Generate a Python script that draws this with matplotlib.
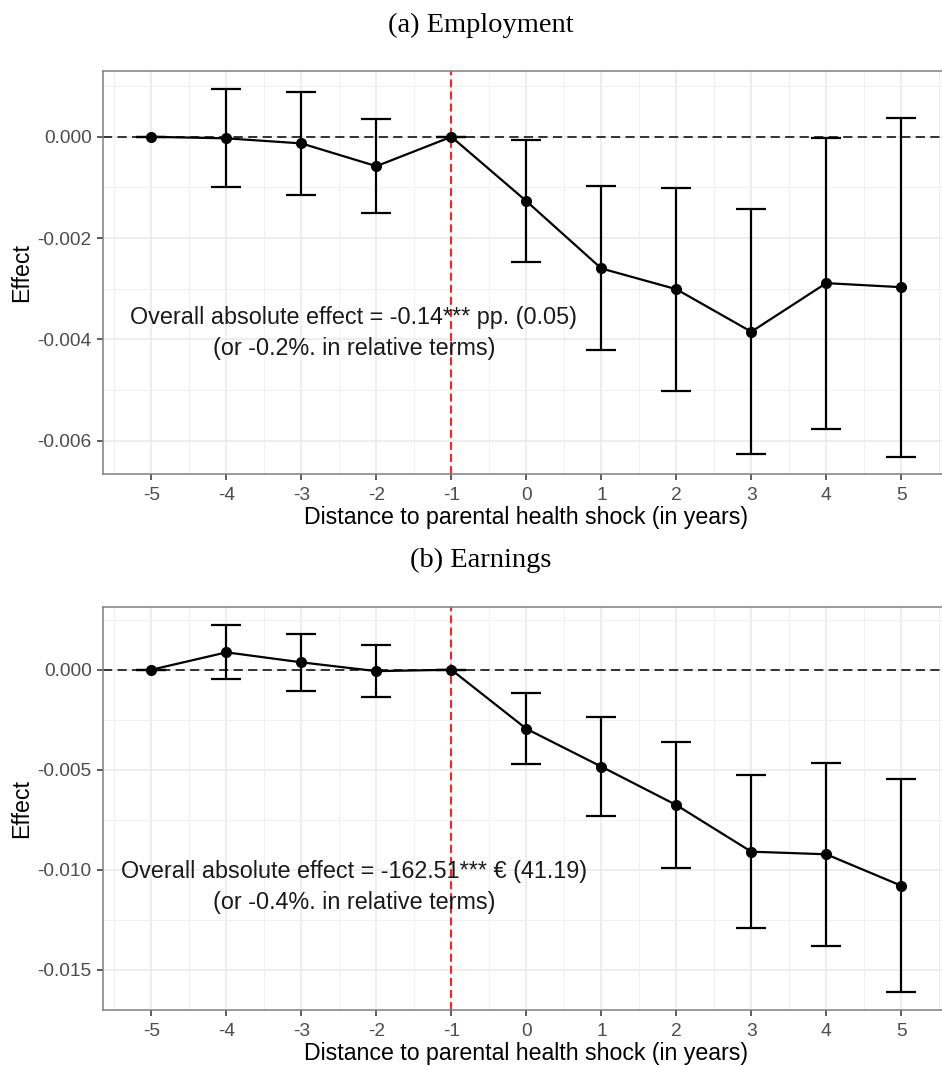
import matplotlib
matplotlib.use("Agg")
import matplotlib.pyplot as plt
from matplotlib.ticker import MultipleLocator
import numpy as np

# ---- data ----
years = [-5, -4, -3, -2, -1, 0, 1, 2, 3, 4, 5]

emp_est = [0.0, -0.00003, -0.00013, -0.00058, 0.0, -0.00127, -0.0026, -0.00301, -0.00385, -0.00289, -0.00297]
emp_lo = [0.0, -0.00099, -0.00115, -0.00151, 0.0, -0.00248, -0.00422, -0.00502, -0.00627, -0.00577, -0.00632]
emp_hi = [0.0, 0.00094, 0.00088, 0.00036, 0.0, -0.000065, -0.00097, -0.00101, -0.00142, -0.00002, 0.000375]

earn_est = [0.0, 0.00087, 0.00037, -0.00007, 0.0, -0.00295, -0.00484, -0.00676, -0.00909, -0.00922, -0.01079]
earn_lo = [0.0, -0.00048, -0.00106, -0.00138, 0.0, -0.00473, -0.00731, -0.00989, -0.01289, -0.01379, -0.01611]
earn_hi = [0.0, 0.00223, 0.00177, 0.00123, 0.0, -0.00118, -0.00238, -0.00363, -0.00526, -0.00468, -0.00544]

emp_yticks = [0.0, -0.002, -0.004, -0.006]
emp_yticklabels = ["0.000", "-0.002", "-0.004", "-0.006"]
earn_yticks = [0.0, -0.005, -0.010, -0.015]
earn_yticklabels = ["0.000", "-0.005", "-0.010", "-0.015"]

titles = ["(a) Employment", "(b) Earnings"]
notes = [
    "Overall absolute effect = -0.14*** pp. (0.05)\n(or -0.2%. in relative terms)",
    "Overall absolute effect = -162.51*** \u20ac (41.19)\n(or -0.4%. in relative terms)",
]
xlabel = "Distance to parental health shock (in years)"
ylabel = "Effect"

plt.rcParams['font.family'] = ['Liberation Sans', 'DejaVu Sans']

fig = plt.figure(figsize=(9.42, 10.66), dpi=100)
W, H = 942.0, 1066.0

panels = [
    dict(est=emp_est, lo=emp_lo, hi=emp_hi, yt=emp_yticks, ytl=emp_yticklabels,
         ylim=(-0.00666, 0.0013), minor=0.001, box=(102.7, 71, 950, 474),
         note_xy=(-2.3, -0.00388), title_y=25),
    dict(est=earn_est, lo=earn_lo, hi=earn_hi, yt=earn_yticks, ytl=earn_yticklabels,
         ylim=(-0.0170, 0.00312), minor=0.0025, box=(102.7, 607.3, 950, 1010),
         note_xy=(-2.3, -0.01086), title_y=560),
]

for i, p in enumerate(panels):
    l, t, r, b = p['box']
    ax = fig.add_axes([l / W, 1 - b / H, (r - l) / W, (b - t) / H])
    ax.set_xlim(-5.65, 5.65)
    ax.set_ylim(*p['ylim'])
    ax.set_xticks(years)
    ax.set_xticklabels([str(y) for y in years])
    ax.xaxis.set_minor_locator(MultipleLocator(1, offset=0.5))
    ax.set_yticks(p['yt'])
    ax.set_yticklabels(p['ytl'])
    ax.yaxis.set_minor_locator(MultipleLocator(p['minor']))
    ax.grid(which='major', color='#EBEBEB', linewidth=1.2, zorder=0)
    ax.grid(which='minor', color='#F0F0F0', linewidth=0.7, zorder=0)
    ax.set_axisbelow(True)
    for s in ax.spines.values():
        s.set_color('#7F7F7F')
        s.set_linewidth(1.1)
    ax.tick_params(which='major', length=4, width=1.1, color='#333333',
                   labelcolor='#4D4D4D', labelsize=13.8, pad=4)
    ax.tick_params(axis='x', which='major', pad=5)
    ax.tick_params(which='minor', length=0)

    ax.axhline(0, color='black', linestyle=(0, (6, 3.5)), linewidth=1.1, zorder=2)
    ax.axvline(-1, color='#FF2020', linestyle=(0, (3.8, 2)), linewidth=1.5, zorder=2)

    est = np.array(p['est'])
    lo = np.array(p['lo'])
    hi = np.array(p['hi'])
    ax.errorbar(years, est, yerr=[est - lo, hi - est], fmt='none', ecolor='black',
                elinewidth=1.6, capsize=11, capthick=1.6, zorder=3)
    ax.plot(years, est, color='black', linewidth=1.6, marker='o', markersize=7, zorder=4)

    ax.text(p['note_xy'][0], p['note_xy'][1], notes[i], ha='center', va='center',
            fontsize=16.8, color='#1A1A1A', linespacing=1.45, zorder=5)

    ax.set_xlabel(xlabel, fontsize=16.7, color='black', labelpad=1.5)
    ax.set_ylabel(ylabel, fontsize=16.7, color='black', labelpad=3)

    fig.text(481 / W, 1 - p['title_y'] / H, titles[i], ha='center', va='center',
             fontsize=20.5, family='Liberation Serif', color='black')

fig.savefig('out.png', dpi=100)
